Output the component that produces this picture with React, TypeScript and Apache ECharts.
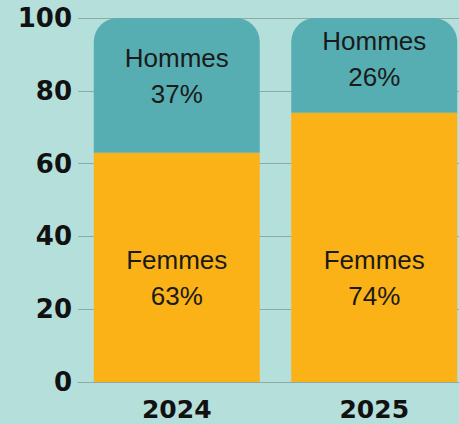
import React, { useEffect, useRef } from "react";
import * as echarts from "echarts";

const categories = ["2024", "2025"];
const femmes = [63, 74];
const hommes = [37, 26];
const femmesOffsets = [11, 31];
const hommesOffsets = [-9, -6];
const yTicks = [0, 20, 40, 60, 80, 100];

export default function App() {
  const ref = useRef<HTMLDivElement>(null);
  useEffect(() => {
    document.body.style.margin = "0";
    const chart = echarts.init(ref.current!, null, { renderer: "svg" });
    const labelStyle = {
      show: true,
      position: "inside" as const,
      color: "#1a1a1a",
      fontFamily: "Liberation Sans, Arial, sans-serif",
      fontSize: 26,
      lineHeight: 36,
    };
    chart.setOption({
      animation: false,
      backgroundColor: "#b4dfdb",
      grid: { left: 78, top: 18, bottom: 42, width: 395, outerBoundsMode: "none", containLabel: false },
      xAxis: {
        type: "category",
        data: categories,
        axisLine: { show: true, lineStyle: { color: "#8fa9a6", width: 1 } },
        axisTick: { show: false },
        axisLabel: {
          color: "#111",
          fontFamily: "DejaVu Sans, sans-serif",
          fontWeight: "bold",
          fontSize: 25,
          lineHeight: 24,
          margin: 15,
        },
      },
      yAxis: {
        type: "value",
        min: 0,
        max: 100,
        interval: 20,
        axisLine: { show: false },
        axisTick: { show: false },
        splitLine: { show: true, lineStyle: { color: "#8fa9a6", width: 1 } },
        axisLabel: {
          color: "#111",
          fontFamily: "DejaVu Sans, sans-serif",
          fontWeight: "bold",
          fontSize: 26,
          margin: 6,
          formatter: (v: number) => (yTicks.includes(v) ? String(v) : ""),
        },
      },
      series: [
        {
          name: "Femmes",
          type: "bar",
          stack: "total",
          barWidth: 166,
          itemStyle: { color: "#fbb216" },
          data: femmes.map((v, i) => ({
            value: v,
            label: { ...labelStyle, offset: [0, femmesOffsets[i]], formatter: `Femmes\n${v}%` },
          })),
        },
        {
          name: "Hommes",
          type: "bar",
          stack: "total",
          barWidth: 166,
          itemStyle: { color: "#57aeb2", borderRadius: [24, 24, 0, 0] },
          data: hommes.map((v, i) => ({
            value: v,
            label: { ...labelStyle, offset: [0, hommesOffsets[i]], formatter: `Hommes\n${v}%` },
          })),
        },
      ],
    });
    return () => chart.dispose();
  }, []);
  return (
    <div
      ref={ref}
      style={{ position: "absolute", left: 0, top: 0, width: 459, height: 424 }}
    />
  );
}
